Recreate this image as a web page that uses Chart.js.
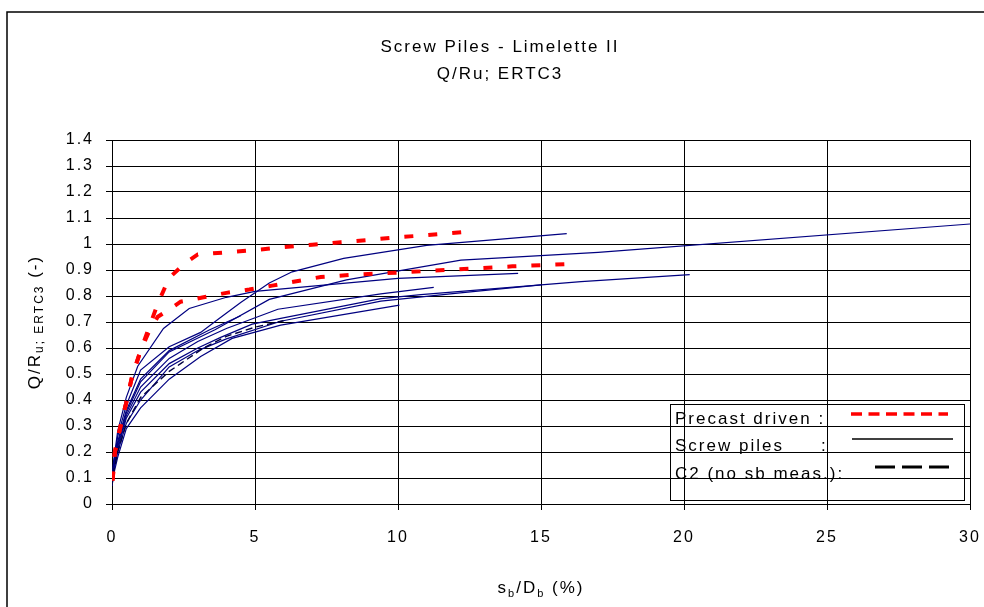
<!DOCTYPE html>
<html><head><meta charset="utf-8">
<script src="https://cdn.jsdelivr.net/npm/chart.js@4/dist/chart.umd.min.js"></script>
<style>html,body{margin:0;padding:0;background:#fff;} canvas{display:block;}</style>
</head><body>
<canvas id="c" width="984" height="607"></canvas>
<script>
const titleLines = ['Screw Piles - Limelette II', 'Q/Ru; ERTC3'];
const xTickLabels = ['0','5','10','15','20','25','30'];
const yTickLabels = ['0','0.1','0.2','0.3','0.4','0.5','0.6','0.7','0.8','0.9','1','1.1','1.2','1.3','1.4'];
const legendLabels = ['Precast driven :', 'Screw piles', 'C2 (no sb meas.):'];

// Precast driven piles
const precast1X = [0.02, 0.1, 0.3, 0.5, 0.7, 1.0, 1.3, 1.6, 2.0, 2.6, 3.0, 4.0, 5.0, 6.0, 7.0, 8.0, 9.0, 10.0, 11.0, 12.3];
const precast1Y = [0.09, 0.2, 0.3, 0.39, 0.49, 0.59, 0.68, 0.77, 0.87, 0.93, 0.96, 0.968, 0.977, 0.988, 0.997, 1.007, 1.016, 1.026, 1.034, 1.046];
const precast2X = [0.02, 0.1, 0.3, 0.5, 0.7, 1.0, 1.3, 1.6, 2.0, 2.4, 3.2, 4.0, 4.8, 5.6, 6.4, 7.3, 8.3, 10.0, 12.0, 14.0, 16.0];
const precast2Y = [0.09, 0.2, 0.3, 0.39, 0.49, 0.59, 0.665, 0.72, 0.748, 0.778, 0.795, 0.812, 0.825, 0.84, 0.856, 0.873, 0.881, 0.89, 0.902, 0.914, 0.923];

// Screw piles
const screwAX = [0, 0.05, 0.2, 0.5, 0.9, 1.8, 2.7, 4.0, 5.0, 10.0, 14.2];
const screwAY = [0.07, 0.16, 0.28, 0.41, 0.53, 0.675, 0.752, 0.795, 0.818, 0.868, 0.887];
const screwBX = [0, 0.05, 0.2, 0.5, 1.0, 2.0, 3.1, 3.7, 4.5, 5.5, 6.3, 8.1, 11.0, 15.9];
const screwBY = [0.07, 0.15, 0.26, 0.38, 0.515, 0.605, 0.66, 0.71, 0.775, 0.85, 0.893, 0.945, 0.995, 1.04];
const screwCX = [0, 0.05, 0.2, 0.5, 1.0, 2.0, 3.6, 5.5, 8.2, 12.2, 17.0, 30.0];
const screwCY = [0.07, 0.14, 0.23, 0.35, 0.47, 0.585, 0.67, 0.787, 0.862, 0.938, 0.968, 1.077];
const screwDX = [0, 0.05, 0.2, 0.5, 1.0, 2.0, 3.4, 4.5];
const screwDY = [0.07, 0.14, 0.24, 0.36, 0.48, 0.59, 0.669, 0.724];
const screwEX = [0, 0.05, 0.2, 0.5, 1.0, 2.0, 3.0, 4.0, 5.8, 9.4, 11.25];
const screwEY = [0.07, 0.13, 0.22, 0.34, 0.45, 0.56, 0.625, 0.675, 0.749, 0.808, 0.833];
const screwFX = [0, 0.05, 0.2, 0.5, 1.0, 2.0, 3.0, 3.8, 4.9, 5.9, 9.4, 10.8, 16.4, 20.2];
const screwFY = [0.07, 0.13, 0.21, 0.33, 0.43, 0.54, 0.6, 0.641, 0.692, 0.714, 0.79, 0.805, 0.855, 0.882];
const screwGX = [0, 0.05, 0.2, 0.5, 1.0, 2.0, 3.0, 4.0, 5.9, 9.4, 12.0, 15.0];
const screwGY = [0.07, 0.12, 0.2, 0.31, 0.40, 0.527, 0.59, 0.635, 0.703, 0.78, 0.81, 0.843];
const screwHX = [0, 0.05, 0.2, 0.5, 1.0, 2.0, 3.1, 4.2, 5.9, 10.05];
const screwHY = [0.07, 0.11, 0.18, 0.29, 0.37, 0.48, 0.567, 0.637, 0.688, 0.765];

// C2 (no sb measurement)
const c2X = [0, 0.05, 0.2, 0.5, 1.0, 2.0, 2.4, 3.2, 4.0, 5.0, 6.0];
const c2Y = [0.07, 0.12, 0.2, 0.31, 0.41, 0.51, 0.54, 0.6, 0.645, 0.68, 0.705];

const FONT = "'Liberation Sans', Arial, sans-serif";
const NAVY = '#000080';

function pts(xs, ys) { return xs.map((x, i) => ({ x: x, y: ys[i] })); }

function redSet(xs, ys) {
  return { data: pts(xs, ys), borderColor: '#ff0000', borderWidth: 4, borderDash: [9, 15], borderCapStyle: 'butt', pointRadius: 0, showLine: true, tension: 0, fill: false };
}
function blueSet(xs, ys) {
  return { data: pts(xs, ys), borderColor: NAVY, borderWidth: 1.2, pointRadius: 0, showLine: true, tension: 0, fill: false };
}

const datasets = [
  redSet(precast1X, precast1Y),
  redSet(precast2X, precast2Y),
  { data: pts(c2X, c2Y), borderColor: '#000040', borderWidth: 1.4, borderDash: [7, 4], pointRadius: 0, showLine: true, tension: 0, fill: false },
  blueSet(screwAX, screwAY),
  blueSet(screwBX, screwBY),
  blueSet(screwCX, screwCY),
  blueSet(screwDX, screwDY),
  blueSet(screwEX, screwEY),
  blueSet(screwFX, screwFY),
  blueSet(screwGX, screwGY),
  blueSet(screwHX, screwHY)
];

function drawRich(ctx, parts, cx, baseline) {
  let w = 0;
  parts.forEach(p => { ctx.font = p.size + 'px ' + FONT; p.w = ctx.measureText(p.t).width; w += p.w; });
  let x = cx - w / 2;
  ctx.textAlign = 'left';
  ctx.textBaseline = 'alphabetic';
  parts.forEach(p => { ctx.font = p.size + 'px ' + FONT; ctx.fillText(p.t, x, baseline + (p.dy || 0)); x += p.w; });
}

const spacing = {
  id: 'spacing',
  beforeUpdate(c) { c.ctx.letterSpacing = '2px'; },
  beforeDraw(c) { c.ctx.letterSpacing = '2px'; }
};

const deco = {
  id: 'deco',
  afterDraw(chart) {
    const ctx = chart.ctx;
    const a = chart.chartArea;
    ctx.save();
    ctx.letterSpacing = '2px';
    ctx.fillStyle = '#000';
    // outer frame
    ctx.strokeStyle = '#000';
    ctx.lineWidth = 1.5;
    ctx.strokeRect(7, 12, 1100, 800);
    // x axis title
    drawRich(ctx, [
      { t: 's', size: 17 }, { t: 'b', size: 11, dy: 4 }, { t: '/D', size: 17 }, { t: 'b', size: 11, dy: 4 }, { t: ' (%)', size: 17 }
    ], (a.left + a.right) / 2, 593);
    // y axis title
    ctx.save();
    ctx.translate(40, (a.top + a.bottom) / 2);
    ctx.rotate(-Math.PI / 2);
    drawRich(ctx, [
      { t: 'Q/R', size: 17 }, { t: 'u; ERTC3', size: 12, dy: 3 }, { t: ' (-)', size: 17 }
    ], 0, 0);
    ctx.restore();
    // legend
    ctx.lineWidth = 1;
    ctx.strokeStyle = '#000';
    ctx.strokeRect(670.5, 404.5, 294, 96);
    ctx.font = '17px ' + FONT;
    ctx.textAlign = 'left';
    ctx.textBaseline = 'alphabetic';
    ctx.fillText(legendLabels[0], 675, 424);
    ctx.fillText(legendLabels[1], 675, 451);
    ctx.fillText(':', 821, 451);
    ctx.fillText(legendLabels[2], 675, 479);
    ctx.beginPath();
    ctx.strokeStyle = '#ff0000';
    ctx.lineWidth = 3.5;
    ctx.setLineDash([11, 6.5]);
    ctx.moveTo(851, 414); ctx.lineTo(948, 414);
    ctx.stroke();
    ctx.beginPath();
    ctx.strokeStyle = '#000';
    ctx.lineWidth = 1.6;
    ctx.setLineDash([]);
    ctx.moveTo(852, 439); ctx.lineTo(953, 439);
    ctx.stroke();
    ctx.beginPath();
    ctx.lineWidth = 3;
    ctx.setLineDash([20, 7]);
    ctx.moveTo(875, 467); ctx.lineTo(949, 467);
    ctx.stroke();
    ctx.restore();
  }
};

new Chart(document.getElementById('c'), {
  type: 'scatter',
  data: { datasets: datasets },
  options: {
    responsive: false,
    animation: false,
    layout: { padding: { left: 30, right: 14, top: 0, bottom: 0 } },
    plugins: {
      legend: { display: false },
      tooltip: { enabled: false },
      title: {
        display: true,
        text: titleLines,
        color: '#000',
        font: { family: FONT, size: 17, weight: 'normal', lineHeight: 1.6 },
        padding: { top: 33.4, bottom: 52.2 }
      }
    },
    scales: {
      x: {
        type: 'linear', min: 0, max: 30,
        afterFit(s) { s.height = 103; s.paddingLeft = 0; s.paddingRight = 0; },
        ticks: { stepSize: 5, padding: 18, color: '#000', font: { family: FONT, size: 16 }, maxRotation: 0,
          callback: (v) => xTickLabels[Math.round(v / 5)] },
        grid: { color: '#000', lineWidth: 1, tickLength: 6, drawTicks: true },
        border: { display: true, color: '#000', width: 1 }
      },
      y: {
        type: 'linear', min: 0, max: 1.4,
        afterFit(s) { s.width = 82; s.paddingTop = 0; s.paddingBottom = 0; },
        ticks: { stepSize: 0.1, padding: 12, color: '#000', font: { family: FONT, size: 16 },
          callback: (v) => yTickLabels[Math.round(v * 10)] },
        grid: { color: '#000', lineWidth: 1, tickLength: 6, drawTicks: true },
        border: { display: true, color: '#000', width: 1 }
      }
    }
  },
  plugins: [spacing, deco]
});
</script>
</body></html>
